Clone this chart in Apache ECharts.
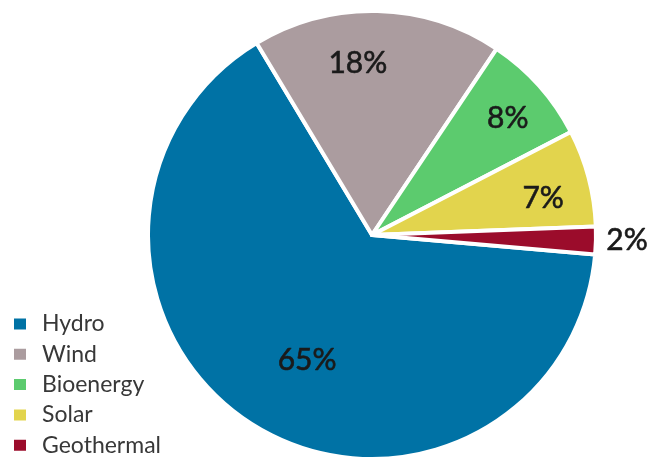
<!DOCTYPE html>
<html>
<head>
<meta charset="utf-8">
<script src="https://cdn.jsdelivr.net/npm/echarts@6/dist/echarts.min.js"></script>
<style>
  html, body { margin: 0; padding: 0; background: #ffffff; }
  #chart { width: 652px; height: 459px; }
</style>
</head>
<body>
<div id="chart"></div>
<script>
// Renewable generation mix by source (percent)
const categories = ['Hydro', 'Wind', 'Bioenergy', 'Solar', 'Geothermal'];
const shares = [65, 18, 8, 7, 2];
const colors = ['#0072a5', '#ab9c9f', '#5ccb6e', '#e2d44d', '#9b0c2b'];
// nudges that move each percentage label off the slice midpoint
const labelNudges = [[-4, 28], [-17, -57], [50, -40], [60, -7], [140, 3]];

const chart = echarts.init(document.getElementById('chart'), null, { renderer: 'canvas' });

chart.setOption({
  animation: false,
  color: colors,
  legend: {
    orient: 'vertical',
    left: 12,
    top: 312,
    height: 160,
    padding: 0,
    itemWidth: 14,
    itemHeight: 13,
    itemGap: 6.3,
    icon: 'rect',
    textStyle: { fontFamily: 'Lato', fontSize: 23, lineHeight: 24, color: '#383838', padding: [0, 0, 0, 10] },
    data: categories
  },
  series: [{
    type: 'pie',
    center: [372, 235],
    radius: 224,
    startAngle: -5,
    clockwise: true,
    avoidLabelOverlap: false,
    itemStyle: { borderColor: '#ffffff', borderWidth: 4 },
    label: {
      show: true,
      position: 'inside',
      formatter: '{c}%',
      fontFamily: 'Lato',
      fontSize: 30,
      color: '#1a1a1a',
      textBorderColor: '#1a1a1a',
      textBorderWidth: 0.6
    },
    labelLine: { show: false },
    labelLayout: function (params) {
      const n = labelNudges[params.dataIndex];
      return { dx: n[0], dy: n[1] };
    },
    data: categories.map(function (name, i) {
      return { name: name, value: shares[i] };
    })
  }]
});
</script>
</body>
</html>
